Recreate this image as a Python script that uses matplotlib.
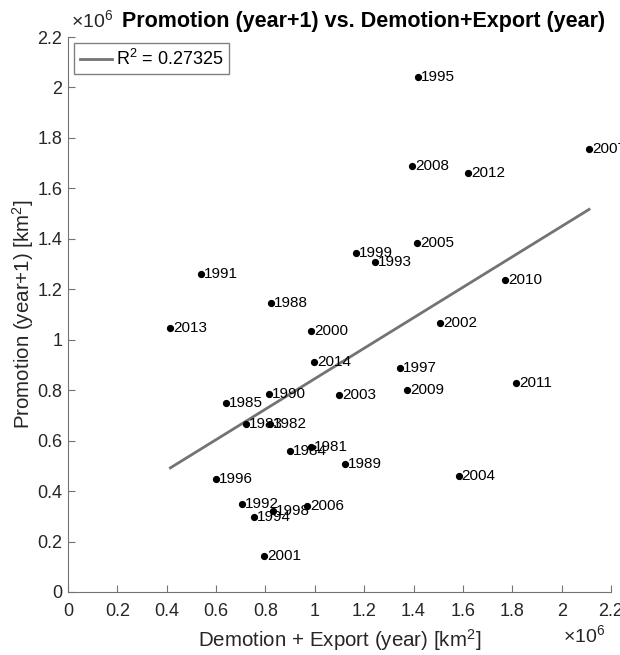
import numpy as np
import matplotlib.pyplot as plt
from matplotlib.ticker import FuncFormatter

plt.rcParams['font.family'] = ['Liberation Sans', 'DejaVu Sans']
plt.rcParams['mathtext.fontset'] = 'custom'
plt.rcParams['mathtext.rm'] = 'Liberation Sans'
plt.rcParams['mathtext.it'] = 'Liberation Sans:italic'
plt.rcParams['mathtext.bf'] = 'Liberation Sans:bold'

# ---- datos (km^2) ----
years = [1981, 1982, 1983, 1984, 1985, 1988, 1989, 1990, 1991, 1992, 1993,
         1994, 1995, 1996, 1997, 1998, 1999, 2000, 2001, 2002, 2003, 2004,
         2005, 2006, 2007, 2008, 2009, 2010, 2011, 2012, 2013, 2014]

demotion_export = np.array([
    0.985, 0.818, 0.722, 0.898, 0.641, 0.822, 1.122, 0.813, 0.540, 0.706, 1.244,
    0.752, 1.417, 0.601, 1.346, 0.829, 1.167, 0.986, 0.795, 1.507, 1.099, 1.583,
    1.415, 0.970, 2.111, 1.393, 1.374, 1.771, 1.815, 1.622, 0.415, 0.998]) * 1e6

promotion_next = np.array([
    0.573, 0.664, 0.664, 0.560, 0.750, 1.147, 0.507, 0.783, 1.259, 0.349, 1.308,
    0.296, 2.041, 0.446, 0.886, 0.322, 1.344, 1.034, 0.141, 1.067, 0.780, 0.461,
    1.382, 0.342, 1.758, 1.687, 0.801, 1.236, 0.827, 1.662, 1.048, 0.910]) * 1e6

r_squared = 0.27325

# ---- figura ----
fig = plt.figure(figsize=(6.2, 6.55), dpi=100)
ax = fig.add_axes([68 / 620, 1 - 592 / 655, 543 / 620, 555 / 655])

# recta de ajuste
coef = np.polyfit(demotion_export, promotion_next, 1)
x_fit = np.array([demotion_export.min(), demotion_export.max()])
ax.plot(x_fit, np.polyval(coef, x_fit), color='0.45', lw=2,
        label=f'R$^2$ = {r_squared}')

# puntos + etiquetas de año
ax.plot(demotion_export, promotion_next, 'o', color='k', markersize=4.2,
        linestyle='none')
for yr, xv, yv in zip(years, demotion_export, promotion_next):
    ax.text(xv + 0.012e6, yv, str(yr), fontsize=11, ha='left', va='center',
            clip_on=False)

ax.set_xlim(0, 2.2e6)
ax.set_ylim(0, 2.2e6)
ax.set_xticks(np.arange(0, 2.21e6, 0.2e6))
ax.set_yticks(np.arange(0, 2.21e6, 0.2e6))
fmt = FuncFormatter(lambda v, p: f'{round(v / 1e6, 1):g}')
ax.xaxis.set_major_formatter(fmt)
ax.yaxis.set_major_formatter(fmt)

for s in ['top', 'right']:
    ax.spines[s].set_visible(False)
for s in ['left', 'bottom']:
    ax.spines[s].set_color('0.45')
    ax.spines[s].set_linewidth(0.8)
ax.tick_params(direction='in', length=5, width=0.8, color='0.45',
               labelcolor='#262626', labelsize=13)
ax.tick_params(axis='x', pad=8)
ax.tick_params(axis='y', pad=4)

ax.set_xlabel('Demotion + Export (year) [km$^2$]', fontsize=14.8,
              color='#262626', labelpad=5)
ax.set_ylabel('Promotion (year+1) [km$^2$]', fontsize=14.8,
              color='#262626', labelpad=1)

# exponentes tipo MATLAB
ax.text(0.005, 1.018, r'$\times10^{6}$', transform=ax.transAxes,
        ha='left', va='baseline', fontsize=14, color='#262626')
ax.text(0.99, -0.09, r'$\times10^{6}$', transform=ax.transAxes,
        ha='right', va='baseline', fontsize=14, color='#262626')

fig.text(364 / 620, 1 - 27 / 655, 'Promotion (year+1) vs. Demotion+Export (year)',
         ha='center', va='baseline', fontsize=15.5, fontweight='bold')

ax.legend(loc='upper left', fancybox=False, edgecolor='0.5', fontsize=13,
          handlelength=1.8, handletextpad=0.2, borderaxespad=0.35,
          borderpad=0.3, framealpha=1)

plt.savefig('out.png', dpi=100)
plt.close()
